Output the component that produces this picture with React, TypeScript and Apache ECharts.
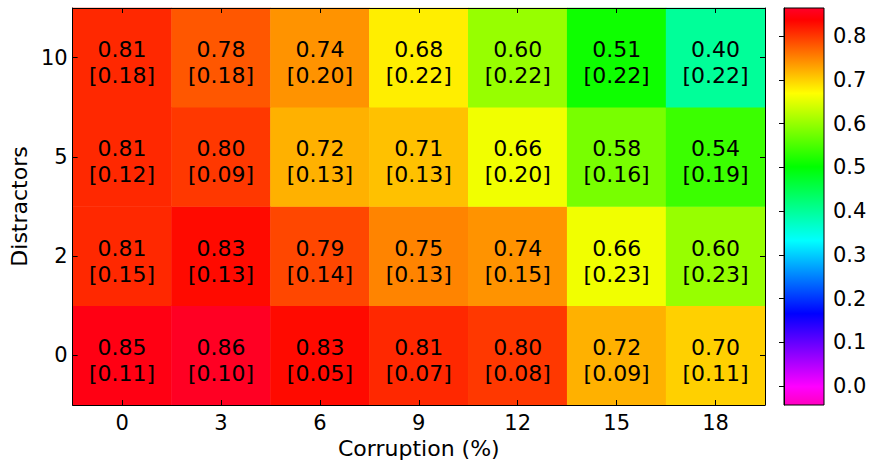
import React, { useEffect, useRef } from "react";
import * as echarts from "echarts";

const corruption = ["0", "3", "6", "9", "12", "15", "18"];
const distractors = ["0", "2", "5", "10"];

// mean accuracy per distractor row (bottom to top), per corruption level
const means0 = [0.85, 0.86, 0.83, 0.81, 0.8, 0.72, 0.7];
const means2 = [0.81, 0.83, 0.79, 0.75, 0.74, 0.66, 0.6];
const means5 = [0.81, 0.8, 0.72, 0.71, 0.66, 0.58, 0.54];
const means10 = [0.81, 0.78, 0.74, 0.68, 0.6, 0.51, 0.4];

const stds0 = [0.11, 0.1, 0.05, 0.07, 0.08, 0.09, 0.11];
const stds2 = [0.15, 0.13, 0.14, 0.13, 0.15, 0.23, 0.23];
const stds5 = [0.12, 0.09, 0.13, 0.13, 0.2, 0.16, 0.19];
const stds10 = [0.18, 0.18, 0.2, 0.22, 0.22, 0.22, 0.22];

const colorbarTicks = [0.0, 0.1, 0.2, 0.3, 0.4, 0.5, 0.6, 0.7, 0.8];
const vmin = -0.043;
const vmax = 0.864;

// gist_rainbow reversed colormap stops
const cmapStops: [number, [number, number, number]][] = [
  [0.0, [1, 0, 0.75]],
  [0.046, [1, 0, 1]],
  [0.23, [0, 0, 1]],
  [0.414, [0, 1, 1]],
  [0.6, [0, 1, 0]],
  [0.785, [1, 1, 0]],
  [0.97, [1, 0, 0]],
  [1.0, [1, 0, 0.16]],
];

function toHex(c: [number, number, number]) {
  return (
    "#" +
    c
      .map((v) => Math.round(Math.max(0, Math.min(1, v)) * 255).toString(16).padStart(2, "0"))
      .join("")
  );
}

function cmap(p: number): string {
  for (let i = 0; i < cmapStops.length - 1; i++) {
    const [p0, c0] = cmapStops[i];
    const [p1, c1] = cmapStops[i + 1];
    if (p >= p0 && p <= p1) {
      const t = (p - p0) / (p1 - p0);
      return toHex([
        c0[0] + (c1[0] - c0[0]) * t,
        c0[1] + (c1[1] - c0[1]) * t,
        c0[2] + (c1[2] - c0[2]) * t,
      ]);
    }
  }
  return toHex(cmapStops[cmapStops.length - 1][1]);
}

const FONT = "DejaVu Sans";

export default function App() {
  const ref = useRef<HTMLDivElement>(null);
  useEffect(() => {
    if (!ref.current) return;
    const chart = echarts.init(ref.current, null, { renderer: "svg" });
    const rows = [
      [means0, stds0],
      [means2, stds2],
      [means5, stds5],
      [means10, stds10],
    ];
    const data: any[] = [];
    rows.forEach(([m, s], yi) => {
      m.forEach((v, xi) => data.push([xi, yi, v, s[xi]]));
    });
    const rangeColors: string[] = [];
    for (let i = 0; i <= 200; i++) rangeColors.push(cmap(i / 200));

    const axisLineStyle = { lineStyle: { color: "#000", width: 1 } };
    const tickStyle = { show: true, inside: true, length: 5, alignWithLabel: true, lineStyle: { color: "#000" } };
    const labelStyle = { color: "#000", fontSize: 21, fontFamily: FONT };
    const nameStyle = { color: "#000", fontSize: 22, fontFamily: FONT };

    chart.setOption({
      animation: false,
      grid: [
        { left: 70, top: 8, width: 695, height: 397 },
        { left: 784, top: 8, width: 40, height: 397 },
      ],
      visualMap: {
        show: false,
        type: "continuous",
        min: vmin,
        max: vmax,
        dimension: 2,
        seriesIndex: 0,
        inRange: { color: rangeColors },
      },
      xAxis: [
        {
          type: "category",
          gridIndex: 0,
          position: "bottom",
          data: corruption,
          z: 10,
          axisLine: axisLineStyle,
          axisTick: tickStyle,
          axisLabel: { ...labelStyle, margin: 7 },
          splitLine: { show: false },
          name: "Corruption (%)",
          nameLocation: "middle",
          nameGap: 32,
          nameTextStyle: nameStyle,
        },
        {
          type: "category",
          gridIndex: 0,
          position: "top",
          data: corruption,
          z: 10,
          axisLine: axisLineStyle,
          axisTick: tickStyle,
          axisLabel: { show: false },
        },
        { type: "value", gridIndex: 1, min: 0, max: 1, show: false },
      ],
      yAxis: [
        {
          type: "category",
          gridIndex: 0,
          position: "left",
          data: distractors,
          z: 10,
          axisLine: axisLineStyle,
          axisTick: tickStyle,
          axisLabel: { ...labelStyle, margin: 5 },
          name: "Distractors",
          nameLocation: "middle",
          nameGap: 38,
          nameTextStyle: nameStyle,
        },
        {
          type: "category",
          gridIndex: 0,
          position: "right",
          data: distractors,
          z: 10,
          axisLine: axisLineStyle,
          axisTick: tickStyle,
          axisLabel: { show: false },
        },
        {
          type: "value",
          gridIndex: 1,
          position: "right",
          min: vmin,
          max: vmax,
          splitNumber: 9,
          z: 10,
          axisLine: { show: true, lineStyle: { color: "#000", width: 1 } },
          axisTick: {
            show: true,
            inside: true,
            length: 5,
            lineStyle: { color: "#000" },
            customValues: colorbarTicks,
          },
          axisLabel: {
            ...labelStyle,
            margin: 9,
            customValues: colorbarTicks,
            formatter: (v: number) => v.toFixed(1),
          },
          splitLine: { show: false },
        },
      ],
      series: [
        {
          type: "heatmap",
          xAxisIndex: 0,
          yAxisIndex: 0,
          data,
          z: 2,
          label: {
            show: true,
            color: "#000",
            fontSize: 22,
            lineHeight: 26,
            fontFamily: FONT,
            offset: [0, 5],
            formatter: (p: any) => `${p.data[2].toFixed(2)}\n[${p.data[3].toFixed(2)}]`,
          },
          itemStyle: { borderWidth: 0 },
          emphasis: { disabled: true },
        },
        {
          type: "custom",
          xAxisIndex: 2,
          yAxisIndex: 2,
          data: [[0, vmin, 1, vmax]],
          z: 2,
          renderItem: (params: any, api: any) => {
            const p0 = api.coord([api.value(0), api.value(1)]);
            const p1 = api.coord([api.value(2), api.value(3)]);
            const stops = cmapStops.map(([o, c]) => ({ offset: 1 - o, color: toHex(c) })).reverse();
            return {
              type: "rect",
              shape: { x: p0[0], y: p1[1], width: p1[0] - p0[0], height: p0[1] - p1[1] },
              style: {
                fill: new echarts.graphic.LinearGradient(0, 0, 0, 1, stops),
                stroke: "#000",
                lineWidth: 1,
              },
            };
          },
        },
      ],
    });
    return () => chart.dispose();
  }, []);
  return <div ref={ref} style={{ width: 874, height: 465, position: "absolute", left: 0, top: 0 }} />;
}
